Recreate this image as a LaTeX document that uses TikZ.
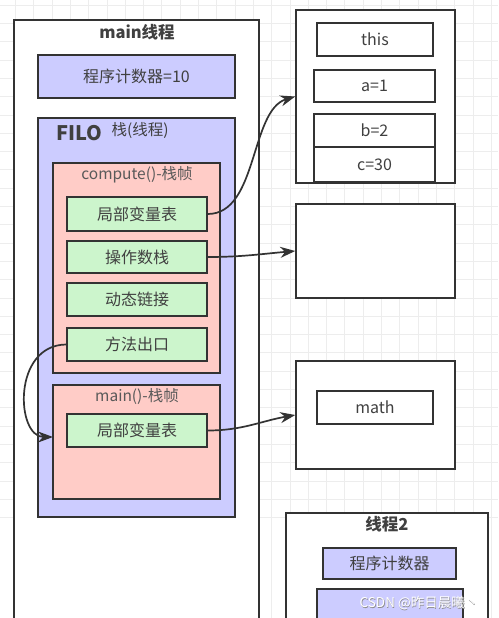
\documentclass[tikz,border=0pt]{standalone}
\usepackage{fontspec}
\setmainfont{Noto Sans CJK SC}
\usetikzlibrary{fit,arrows.meta}
\definecolor{lav}{HTML}{CCCCFF}
\definecolor{pinkf}{HTML}{FFCCC7}
\definecolor{greenf}{HTML}{CCF5CC}
\definecolor{edge}{HTML}{333333}
\definecolor{txt}{HTML}{404040}
\tikzset{
  bx/.style={draw=edge, line width=1.5pt, inner sep=0pt},
  lbl/.style={text=txt, font=\fontsize{16}{18}\selectfont, inner sep=0pt},
  lavbox/.style={bx, fill=lav},
  pinkbox/.style={bx, fill=pinkf},
  greenbox/.style={bx, fill=greenf},
  whitebox/.style={bx, fill=white},
  ttl/.style={text=txt, font=\fontsize{16.5}{18}\selectfont\bfseries, inner sep=0pt},
  sub/.style={text=txt, font=\fontsize{15.5}{17}\selectfont, inner sep=0pt},
  conn/.style={draw=edge, line width=1.7pt, -{Stealth[length=15pt,width=11pt]}},
}
\begin{document}
\begin{tikzpicture}[x=1pt,y=-1pt]
\useasboundingbox (0,0) rectangle (498,618);
\clip (0,0) rectangle (498,618);
\fill[white] (0,0) rectangle (498,618);
% grid
\foreach \i in {0,...,28} {
  \draw[black!7, line width=0.6pt] (\i*18.3-3,0) -- (\i*18.3-3,618);
  \draw[black!7, line width=0.6pt] (0,\i*18.3+5) -- (498,\i*18.3+5);
}
% main thread
\node[whitebox, fit={(14,20) (259,640)}] (mainth) {};
\node[ttl] (maintitle) at (137,32) {main线程};
\node[lavbox, fit={(38,55) (235,98)}, label={[lbl,name=pcl]center:程序计数器=10}] (pc) {};
\node[lavbox, fit={(38,118) (235,517)}] (stack) {};
\node[text=txt, font=\fontsize{20}{22}\selectfont\bfseries, inner sep=0pt] (filo) at (79,133) {FILO};
\node[sub] (stacktitle) at (140,130) {栈(线程)};
% compute frame
\node[pinkbox, fit={(53,163) (220,373)}] (cf) {};
\node[sub, text=black!65] (cftitle) at (137,175) {compute()-栈帧};
\node[greenbox, fit={(67,197) (207,231)}, label={[lbl,name=lv1l]center:局部变量表}] (lv1) {};
\node[greenbox, fit={(67,241) (207,273)}, label={[lbl,name=osl]center:操作数栈}] (os) {};
\node[greenbox, fit={(67,283) (207,316)}, label={[lbl,name=dll]center:动态链接}] (dl) {};
\node[greenbox, fit={(67,328) (207,361)}, label={[lbl,name=exl]center:方法出口}] (ex) {};
% main frame
\node[pinkbox, fit={(53,385) (220,499)}] (mf) {};
\node[sub, text=black!65] (mftitle) at (137,397) {main()-栈帧};
\node[greenbox, fit={(67,414) (207,447)}, label={[lbl,name=lv2l]center:局部变量表}] (lv2) {};
% right boxes
\node[whitebox, fit={(296,10) (455,183)}] (b1) {};
\node[whitebox, fit={(317,23) (433,56)}, label={[lbl,name=thisl]center:this}] (this) {};
\node[whitebox, fit={(314,70) (435,102)}, label={[lbl,name=val]center:a=1}] (va) {};
\node[whitebox, fit={(314,114) (435,147)}, label={[lbl,name=vbl]center:b=2}] (vb) {};
\node[whitebox, fit={(314,147) (435,182)}, label={[lbl,name=vcl]center:c=30}] (vc) {};
\node[whitebox, fit={(296,204) (455,298)}] (b2) {};
\node[whitebox, fit={(296,361) (455,469)}] (b3) {};
\node[whitebox, fit={(317,391) (433,424)}, label={[lbl,name=mathl]center:math}] (math) {};
% thread 2
\node[whitebox, fit={(286,513) (488,640)}] (t2) {};
\node[ttl] (t2title) at (387,524) {线程2};
\node[lavbox, fit={(323,548) (456,579)}, label={[lbl,name=pc2l]center:程序计数器}] (pc2) {};
\node[lavbox, fit={(317,589) (463,640)}] (st2) {};
% connectors
\draw[conn] (lv1.east) .. controls (258,214) and (250,110) .. (b1.west);
\draw[conn] (os.east) to[out=0,in=185] (b2.west);
\coordinate (mfin) at (53,437);
\draw[conn] (ex.west) .. controls (12,345) and (16,437) .. (mfin);
\draw[conn] (lv2.east) to[out=0,in=190] (b3.west);
% watermark
\node[text=black!45, font=\fontsize{13.5}{15}\selectfont, inner sep=0pt] (wms) at (419.6,603.6) {CSDN @昨日晨曦丶};
\node[text=white, font=\fontsize{13.5}{15}\selectfont, inner sep=0pt] (wm) at (419,603) {CSDN @昨日晨曦丶};
\end{tikzpicture}
\end{document}
